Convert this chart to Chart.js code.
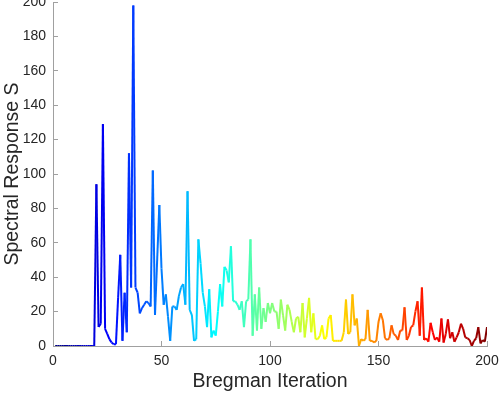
<!DOCTYPE html>
<html>
<head>
<meta charset="utf-8">
<script src="https://cdn.jsdelivr.net/npm/chart.js@4.4.0/dist/chart.umd.min.js"></script>
<style>
  html, body { margin: 0; padding: 0; background: #fff; }
  #wrap { width: 499px; height: 394px; }
</style>
</head>
<body>
<div id="wrap"><canvas id="spectrumChart" width="499" height="394"></canvas></div>
<script>
// spectral response per Bregman iteration (1..200)
const spectralResponse = [
    0, 0, 0, 0, 0, 0, 0, 0, 0, 0, 0, 0, 0, 0, 0, 0, 0, 0, 0,
    94, 11, 13, 129, 10, 7, 4, 2, 1, 1,
    28, 53, 3, 31, 8, 112, 34, 198, 34, 31,
    19, 22, 24, 26, 25, 23, 102, 18, 50, 82,
    45, 24, 30, 17, 3, 23, 23, 21, 29, 34,
    36, 24, 90, 21, 18, 3, 4, 62, 48, 31,
    23, 11, 33, 5, 9, 6, 20, 36, 23, 46,
    44, 37, 58, 26, 26, 24, 21, 26, 11, 26,
    27, 62, 6, 30, 9, 34, 10,
    22, 14, 25, 19, 25, 20, 20, 10, 27, 18,
    9, 24, 21, 14, 8, 16, 17, 8, 25, 5,
    16, 28, 8, 19, 4, 4, 6, 12, 4, 5,
    16, 18, 3, 3, 3, 3, 3, 8, 27, 7,
    8, 30, 12, 16, 0, 4, 3, 4, 21, 3,
    3, 2, 3, 14, 19,
    15, 4.5, 3.5, 4.5, 12, 7, 6, 3.5, 9, 9,
    22.5, 3.5, 6, 11, 12, 20, 26, 6, 34, 3.5,
    4.5, 2.5, 13.5, 8, 3.5, 5, 2.5, 16, 2, 7,
    15.5, 4.5, 8, 2.5, 5, 8, 13, 10, 5, 4.5,
    3.5, 0, 3, 4.5, 11, 1.5, 3.5, 2.5, 11
];
const iterations = spectralResponse.map((_, k) => k + 1);

const xTicks = { min: 0, max: 200, step: 50 };
const yTicks = { min: 0, max: 200, step: 20 };

const fontFamily = "'Liberation Sans', Arial, Helvetica, sans-serif";
const axisGrey = '#a0a0a0';
const textColor = '#262626';

// MATLAB style jet colormap
function jet(t) {
    const c = v => Math.round(255 * Math.max(0, Math.min(1, v)));
    const r = c(1.5 - Math.abs(4 * t - 3));
    const g = c(1.5 - Math.abs(4 * t - 2));
    const b = c(1.5 - Math.abs(4 * t - 1));
    return `rgb(${r},${g},${b})`;
}

const first = iterations[0];
const last = iterations[iterations.length - 1];

const points = iterations.map((it, k) => ({ x: it, y: spectralResponse[k] }));

const ctx = document.getElementById('spectrumChart').getContext('2d');
new Chart(ctx, {
    type: 'line',
    data: {
        datasets: [{
            label: 'Spectral Response S',
            data: points,
            borderWidth: 2,
            pointRadius: 0,
            tension: 0,
            fill: false,
            segment: {
                borderColor: c => {
                    const mid = (c.p0.parsed.x + c.p1.parsed.x) / 2;
                    return jet((mid - first) / (last - first));
                }
            }
        }]
    },
    options: {
        responsive: false,
        animation: false,
        devicePixelRatio: 1,
        layout: { padding: { left: 0, right: 12, top: 2, bottom: 0 } },
        plugins: { legend: { display: false }, tooltip: { enabled: false } },
        scales: {
            x: {
                type: 'linear',
                min: xTicks.min,
                max: xTicks.max,
                ticks: {
                    stepSize: xTicks.step,
                    color: textColor,
                    font: { family: fontFamily, size: 14 },
                    padding: 12,
                    maxRotation: 0
                },
                grid: { drawOnChartArea: false, drawTicks: true, tickLength: -5, color: axisGrey },
                border: { display: true, color: axisGrey, width: 1 },
                title: {
                    display: true,
                    text: 'Bregman Iteration',
                    color: textColor,
                    font: { family: fontFamily, size: 19.5 },
                    padding: { top: 0, bottom: 1 }
                },
                afterFit: s => { s.height = 48; s.paddingLeft = 0; s.paddingRight = 0; }
            },
            y: {
                min: yTicks.min,
                max: yTicks.max,
                ticks: {
                    stepSize: yTicks.step,
                    color: textColor,
                    font: { family: fontFamily, size: 14 },
                    padding: 12
                },
                grid: { drawOnChartArea: false, drawTicks: true, tickLength: -5, color: axisGrey },
                border: { display: true, color: axisGrey, width: 1 },
                title: {
                    display: true,
                    text: 'Spectral Response S',
                    color: textColor,
                    font: { family: fontFamily, size: 19.5 },
                    padding: { top: 1, bottom: 0 }
                },
                afterFit: s => { s.width = 53; s.paddingTop = 0; s.paddingBottom = 0; }
            }
        }
    }
});
</script>
</body>
</html>
